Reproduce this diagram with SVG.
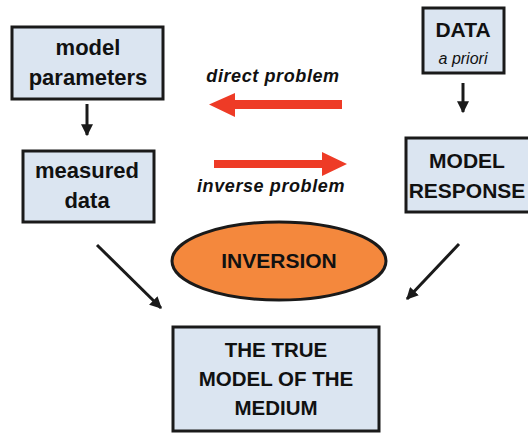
<svg xmlns="http://www.w3.org/2000/svg" width="528" height="433" viewBox="0 0 528 433">
<style>
.box{fill:#dbe5f1;stroke:#1a1a1a;stroke-width:3}
.t{font-family:"Liberation Sans",Arial,sans-serif;font-weight:bold;fill:#111;text-anchor:middle}
.lbl{font-family:"Liberation Sans",Arial,sans-serif;font-weight:bold;font-style:italic;fill:#111;text-anchor:middle;font-size:18px;letter-spacing:0.6px}
.con{stroke:#1a1a1a;stroke-width:3;fill:none}
</style>
<defs>
<marker id="ah" viewBox="0 0 10 10" refX="9" refY="5" markerWidth="4" markerHeight="4" orient="auto" markerUnits="strokeWidth">
<path d="M0,0 L10,5 L0,10 Z" fill="#1a1a1a"/>
</marker>
</defs>
<rect width="528" height="433" fill="#fff"/>
<g id="model-parameters">
<rect class="box" x="12" y="27" width="151" height="72"/>
<text class="t" x="88" y="55" font-size="22">model</text>
<text class="t" x="88" y="85" font-size="22">parameters</text>
</g>
<g id="measured-data">
<rect class="box" x="23" y="151" width="131" height="71"/>
<text class="t" x="87" y="178" font-size="22">measured</text>
<text class="t" x="87" y="208" font-size="22">data</text>
</g>
<g id="data-a-priori">
<rect class="box" x="423" y="8" width="81" height="65"/>
<text class="t" x="463" y="37" font-size="21">DATA</text>
<text x="463" y="64" font-family="Liberation Sans,Arial,sans-serif" font-style="italic" font-size="16" fill="#111" text-anchor="middle">a priori</text>
</g>
<g id="model-response">
<rect class="box" x="406" y="138" width="126" height="74"/>
<text class="t" x="467" y="168" font-size="21">MODEL</text>
<text class="t" x="467" y="198" font-size="21">RESPONSE</text>
</g>
<g id="inversion">
<ellipse cx="279" cy="261" rx="107" ry="39" fill="#f4883d" stroke="#1a1a1a" stroke-width="3"/>
<text class="t" x="279" y="268" font-size="21">INVERSION</text>
</g>
<g id="true-model">
<rect class="box" x="173" y="327" width="206" height="104"/>
<text class="t" x="276" y="357" font-size="20.5">THE TRUE</text>
<text class="t" x="276" y="386" font-size="20.5">MODEL OF THE</text>
<text class="t" x="276" y="415" font-size="20.5">MEDIUM</text>
</g>
<g id="connectors">
<line class="con" x1="87" y1="104" x2="87" y2="135" marker-end="url(#ah)"/>
<line class="con" x1="463" y1="83" x2="463" y2="112" marker-end="url(#ah)"/>
<line class="con" x1="97" y1="245" x2="161" y2="308" marker-end="url(#ah)"/>
<line class="con" x1="459" y1="244" x2="407" y2="299" marker-end="url(#ah)"/>
<path d="M342,100 L235,100 L235,93 L209,104.5 L235,117 L235,109 L342,109 Z" fill="#ee3b26"/>
<path d="M214,160 L322,160 L322,152 L347,164 L322,176 L322,168 L214,168 Z" fill="#ee3b26"/>
<text class="lbl" x="273" y="82">direct problem</text>
<text class="lbl" x="271" y="192">inverse problem</text>
</g>
</svg>
